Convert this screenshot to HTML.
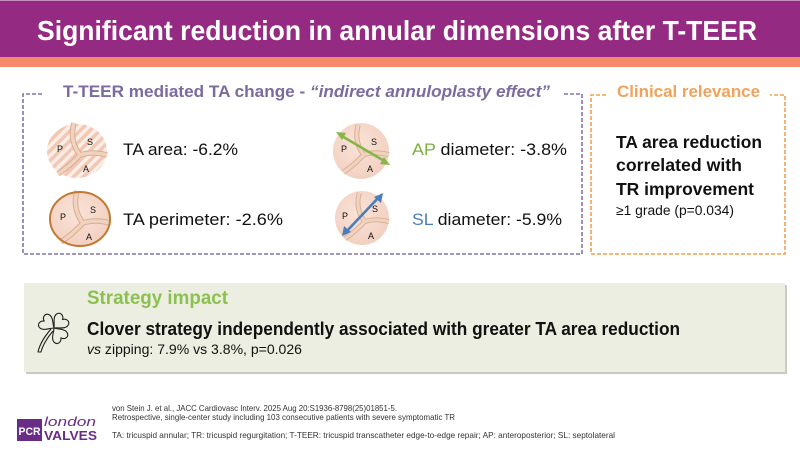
<!DOCTYPE html>
<html><head><meta charset="utf-8"><style>
html,body{margin:0;padding:0;background:#fff;}
svg{display:block;}
text{font-family:"Liberation Sans",Arial,sans-serif;}
</style></head><body>
<svg width="800" height="450" viewBox="0 0 800 450" xmlns="http://www.w3.org/2000/svg">
<defs>
<pattern id="stripes" patternUnits="userSpaceOnUse" width="7" height="7" patternTransform="rotate(45)">
<rect width="7" height="7" fill="#fbeee8"/>
<rect width="3.5" height="7" fill="#f2c8b2"/>
</pattern>
<radialGradient id="peach" cx="0.45" cy="0.4" r="0.7">
<stop offset="0" stop-color="#fae3d8"/>
<stop offset="1" stop-color="#f1cdbd"/>
</radialGradient>
<g id="yshape">
<path d="M3,4 Q-8,-10 -3,-28 M3,4 Q15,0 30,4 M3,4 Q-6,14 -19,23" fill="none" stroke="#d9ae94" stroke-width="5.5"/>
<path d="M3,4 Q-8,-10 -3,-28 M3,4 Q15,0 30,4 M3,4 Q-6,14 -19,23" fill="none" stroke="#f0d3bf" stroke-width="3.5"/>
</g>
<g id="labels">
<text x="-20" y="1" font-size="9" fill="#111">P</text>
<text x="10" y="-6" font-size="9" fill="#111">S</text>
<text x="6" y="21" font-size="9" fill="#111">A</text>
</g>
<path id="heart" d="M0,0 C-3,-4 -9,-7 -8,-12 C-7,-16 -2,-16 0,-12 C2,-16 7,-16 8,-12 C9,-7 3,-4 0,0 Z"/>
</defs>

<!-- header -->
<rect x="0" y="0" width="800" height="57" fill="#952a82"/>
<rect x="0" y="0" width="800" height="1" fill="#c590bd"/>
<rect x="0" y="57" width="800" height="10" fill="#f4896b"/>
<text x="37" y="40" font-size="28" font-weight="bold" fill="#ffffff" textLength="720" lengthAdjust="spacingAndGlyphs">Significant reduction in annular dimensions after T-TEER</text>

<!-- purple dashed box -->
<path d="M42,94 H23 V254 H582 V94 H562" fill="none" stroke="#8273ab" stroke-width="1.6" stroke-dasharray="4,2"/>
<text x="63" y="97" font-size="16.5" font-weight="bold" fill="#7b6ba0" textLength="487" lengthAdjust="spacingAndGlyphs">T-TEER mediated TA change - <tspan font-style="italic">“indirect annuloplasty effect”</tspan></text>

<!-- orange dashed box -->
<path d="M606,95 H591 V254 H785 V95 H770" fill="none" stroke="#f0a055" stroke-width="1.6" stroke-dasharray="4,2"/>
<text x="617" y="97" font-size="16.5" font-weight="bold" fill="#f2a25a" textLength="143" lengthAdjust="spacingAndGlyphs">Clinical relevance</text>

<!-- icon 1: TA area -->
<g transform="translate(77,151)">
<ellipse cx="0" cy="0" rx="30" ry="27" fill="url(#stripes)"/>
<use href="#yshape"/>
<use href="#labels"/>
</g>
<text x="123" y="155" font-size="17" fill="#111" textLength="115" lengthAdjust="spacingAndGlyphs">TA area: -6.2%</text>

<!-- icon 2: TA perimeter -->
<g transform="translate(80,219)">
<ellipse cx="0" cy="0" rx="30" ry="27" fill="url(#peach)"/>
<use href="#yshape"/>
<ellipse cx="0" cy="0" rx="30" ry="27" fill="none" stroke="#c07a35" stroke-width="2"/>
<use href="#labels"/>
</g>
<text x="123" y="225" font-size="17" fill="#111" textLength="160" lengthAdjust="spacingAndGlyphs">TA perimeter: -2.6%</text>

<!-- icon 3: AP diameter -->
<g transform="translate(361,151)">
<circle cx="0" cy="0" r="28" fill="url(#peach)"/>
<use href="#yshape" transform="scale(0.93)"/>
<use href="#labels"/>
</g>
<g stroke="#86b548" stroke-width="2.6" fill="#86b548">
<line x1="340" y1="135" x2="386" y2="162"/>
<polygon points="336,132 346,133 342,140" stroke="none"/>
<polygon points="390,165 380,164 384,157" stroke="none"/>
</g>
<text x="412" y="155" font-size="17" fill="#111" textLength="155" lengthAdjust="spacingAndGlyphs"><tspan fill="#7ab03e">AP</tspan> diameter: -3.8%</text>

<!-- icon 4: SL diameter -->
<g transform="translate(362,218)">
<circle cx="0" cy="0" r="27" fill="url(#peach)"/>
<use href="#yshape" transform="scale(0.9)"/>
<use href="#labels"/>
</g>
<g stroke="#4a7ebb" stroke-width="2.6" fill="#4a7ebb">
<line x1="346" y1="232" x2="379" y2="197"/>
<polygon points="342,236 344,226 351,232" stroke="none"/>
<polygon points="383,193 381,203 374,197" stroke="none"/>
</g>
<text x="412" y="225" font-size="17" fill="#111" textLength="150" lengthAdjust="spacingAndGlyphs"><tspan fill="#4a7ebb">SL</tspan> diameter: -5.9%</text>

<!-- clinical relevance body -->
<text x="616" y="148" font-size="17.5" font-weight="bold" fill="#111" textLength="146" lengthAdjust="spacingAndGlyphs">TA area reduction</text>
<text x="616" y="171" font-size="17.5" font-weight="bold" fill="#111" textLength="126" lengthAdjust="spacingAndGlyphs">correlated with</text>
<text x="616" y="195" font-size="17.5" font-weight="bold" fill="#111" textLength="138" lengthAdjust="spacingAndGlyphs">TR improvement</text>
<text x="616" y="215" font-size="13.5" fill="#111" textLength="118" lengthAdjust="spacingAndGlyphs">≥1 grade (p=0.034)</text>

<!-- strategy box -->
<rect x="26" y="285" width="761" height="89" fill="#c9cbc2"/>
<rect x="24" y="283" width="761" height="89" fill="#ebeee0"/>
<text x="87" y="304" font-size="19" font-weight="bold" fill="#8cc152" textLength="141" lengthAdjust="spacingAndGlyphs">Strategy impact</text>
<text x="87" y="335" font-size="18" font-weight="bold" fill="#111" textLength="593" lengthAdjust="spacingAndGlyphs">Clover strategy independently associated with greater TA area reduction</text>
<text x="87" y="354" font-size="14" fill="#111" textLength="215" lengthAdjust="spacingAndGlyphs"><tspan font-style="italic">vs</tspan> zipping:   7.9% vs 3.8%, p=0.026</text>

<!-- clover icon -->
<g fill="none" stroke="#222" stroke-width="1.1" stroke-linejoin="round" transform="translate(54,328)">
<use href="#heart" transform="rotate(-55)"/>
<use href="#heart" transform="rotate(45)"/>
<use href="#heart" transform="rotate(145)"/>
<path d="M-1,3 C-6,9 -11,16 -13,24 L-16,24 C-14,15 -9,8 -3,1"/>
</g>

<!-- footer -->
<text x="112" y="411" font-size="8.2" fill="#333" textLength="285" lengthAdjust="spacingAndGlyphs">von Stein J. et al., JACC Cardiovasc Interv. 2025 Aug 20:S1936-8798(25)01851-5.</text>
<text x="112" y="420" font-size="8.2" fill="#333" textLength="343" lengthAdjust="spacingAndGlyphs">Retrospective, single-center study including 103 consecutive patients with severe symptomatic TR</text>
<text x="112" y="438" font-size="8.2" fill="#333" textLength="503" lengthAdjust="spacingAndGlyphs">TA: tricuspid annular; TR: tricuspid regurgitation; T-TEER: tricuspid transcatheter edge-to-edge repair; AP: anteroposterior; SL: septolateral</text>

<!-- logo -->
<rect x="17" y="419" width="25" height="22" fill="#6a2c87"/>
<text x="18.5" y="435" font-size="11" font-weight="bold" fill="#fff" textLength="22" lengthAdjust="spacingAndGlyphs">PCR</text>
<text x="44" y="426" font-size="13" font-style="italic" fill="#6a2c87" textLength="52" lengthAdjust="spacingAndGlyphs">london</text>
<text x="44" y="440" font-size="13" font-weight="bold" fill="#6a2c87" textLength="53" lengthAdjust="spacingAndGlyphs">VALVES</text>
</svg>
</body></html>
